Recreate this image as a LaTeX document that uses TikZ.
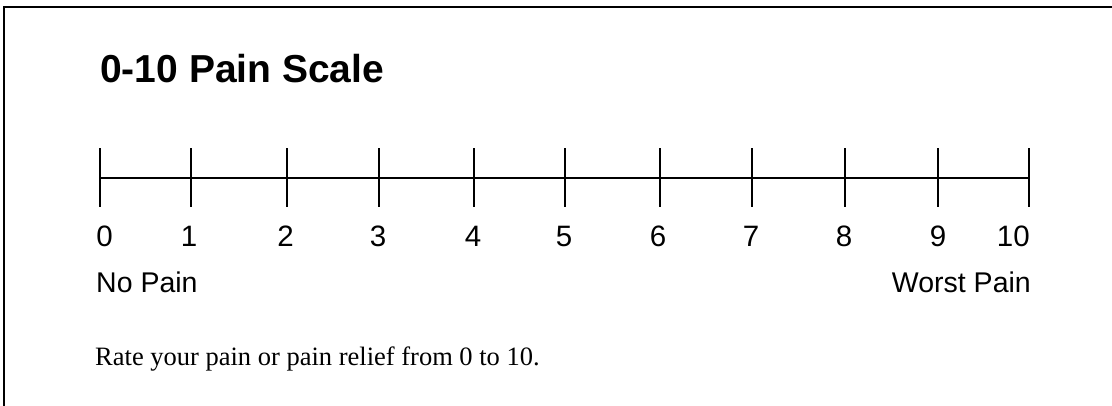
\documentclass[tikz,border=0pt]{standalone}
\usepackage{fontspec}
\setmainfont{Liberation Serif}
\setsansfont{Liberation Sans}
\begin{document}
\begin{tikzpicture}[x=1pt,y=-1pt,
  frame/.style={line width=2pt, line cap=rect},
  axisline/.style={line width=2pt},
  tickmark/.style={line width=1.8pt},
  title/.style={font=\sffamily\bfseries\fontsize{39}{40}\selectfont, inner sep=0pt, anchor=base west},
  numlbl/.style={font=\sffamily\fontsize{29.5}{31}\selectfont, inner sep=0pt, anchor=base},
  endlbl/.style={font=\sffamily\fontsize{28.5}{30}\selectfont, inner sep=0pt},
  note/.style={font=\rmfamily\fontsize{26.5}{28}\selectfont, inner sep=0pt, anchor=base west}]
\useasboundingbox (0,0) rectangle (1112,405);
\coordinate (fb) at (4,405);
\coordinate (fc) at (4,7);
\coordinate (fr) at (1112,7);
\draw[frame] (fb) -- (fc) -- (fr);
\node[title] (ttl) at (100,82) {0-10 Pain Scale};
\foreach \i/\x in {0/100,1/191,2/287,3/379,4/474,5/565,6/660,7/752,8/845,9/938,10/1029} {
  \coordinate (t\i) at (\x,178);
  \draw[tickmark] (\x,148) -- (\x,207);
}
\draw[axisline] (t0) -- (t10);
\node[numlbl] (n0) at (104.5,246) {0};
\foreach \i/\x in {1/189,2/285.5,3/378,4/473,5/564,6/658,7/751,8/844,9/938} {
  \node[numlbl] (n\i) at (\x,246) {\i};
}
\node[numlbl, anchor=base east] (n10) at (1030,246) {10};
\node[endlbl, anchor=base west] (nopain) at (96,292) {No Pain};
\node[endlbl, anchor=base east] (worst) at (1031,292) {Worst Pain};
\node[note] (rate) at (95,365) {Rate your pain or pain relief from 0 to 10.};
\end{tikzpicture}
\end{document}
